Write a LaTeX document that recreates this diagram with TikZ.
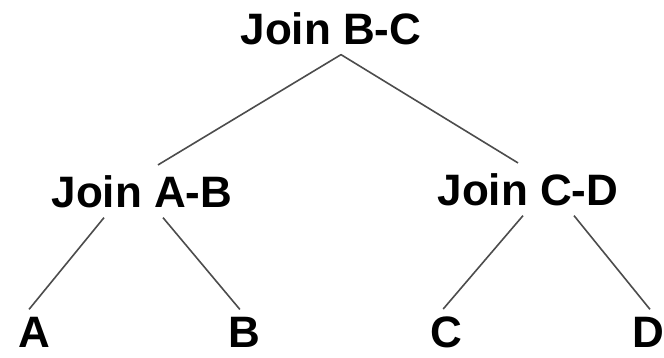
\documentclass[tikz,border=0pt]{standalone}
\usepackage{fontspec}
\setmainfont{Liberation Sans}
\tikzset{
    joinlabel/.style={font=\fontsize{44}{48}\selectfont\bfseries, inner xsep=0pt, inner ysep=10pt, anchor=base},
    leaflabel/.style={joinlabel, inner ysep=1pt},
    treeline/.style={line width=1.6pt, black!70},
}
\begin{document}
\begin{tikzpicture}[x=1pt,y=-1pt]
    \useasboundingbox (0,0) rectangle (664,357);
    \node[joinlabel] (jbc) at (331,44) {Join B-C};
    \node[joinlabel] (jab) at (142,207) {Join A-B};
    \node[joinlabel] (jcd) at (528,205) {Join C-D};
    \foreach \n/\x in {A/34, B/244, C/446, D/648} {
        \node[leaflabel] (leaf\n) at (\x,347) {\n};
    }
    \draw[treeline] ([xshift=10pt]jbc.south) -- ([xshift=16pt]jab.north);
    \draw[treeline] ([xshift=10pt]jbc.south) -- ([xshift=-10pt]jcd.north);
    \draw[treeline, shorten >=8pt] ([xshift=-38pt]jab.south) -- ([xshift=-10pt]leafA.north);
    \draw[treeline, shorten >=8pt] ([xshift=21pt]jab.south) -- ([xshift=1pt]leafB.north);
    \draw[treeline, shorten >=8pt] ([xshift=-5pt]jcd.south) -- ([xshift=-8pt]leafC.north);
    \draw[treeline, shorten >=8pt] ([xshift=46pt]jcd.south) -- ([xshift=7pt]leafD.north);
\end{tikzpicture}
\end{document}
